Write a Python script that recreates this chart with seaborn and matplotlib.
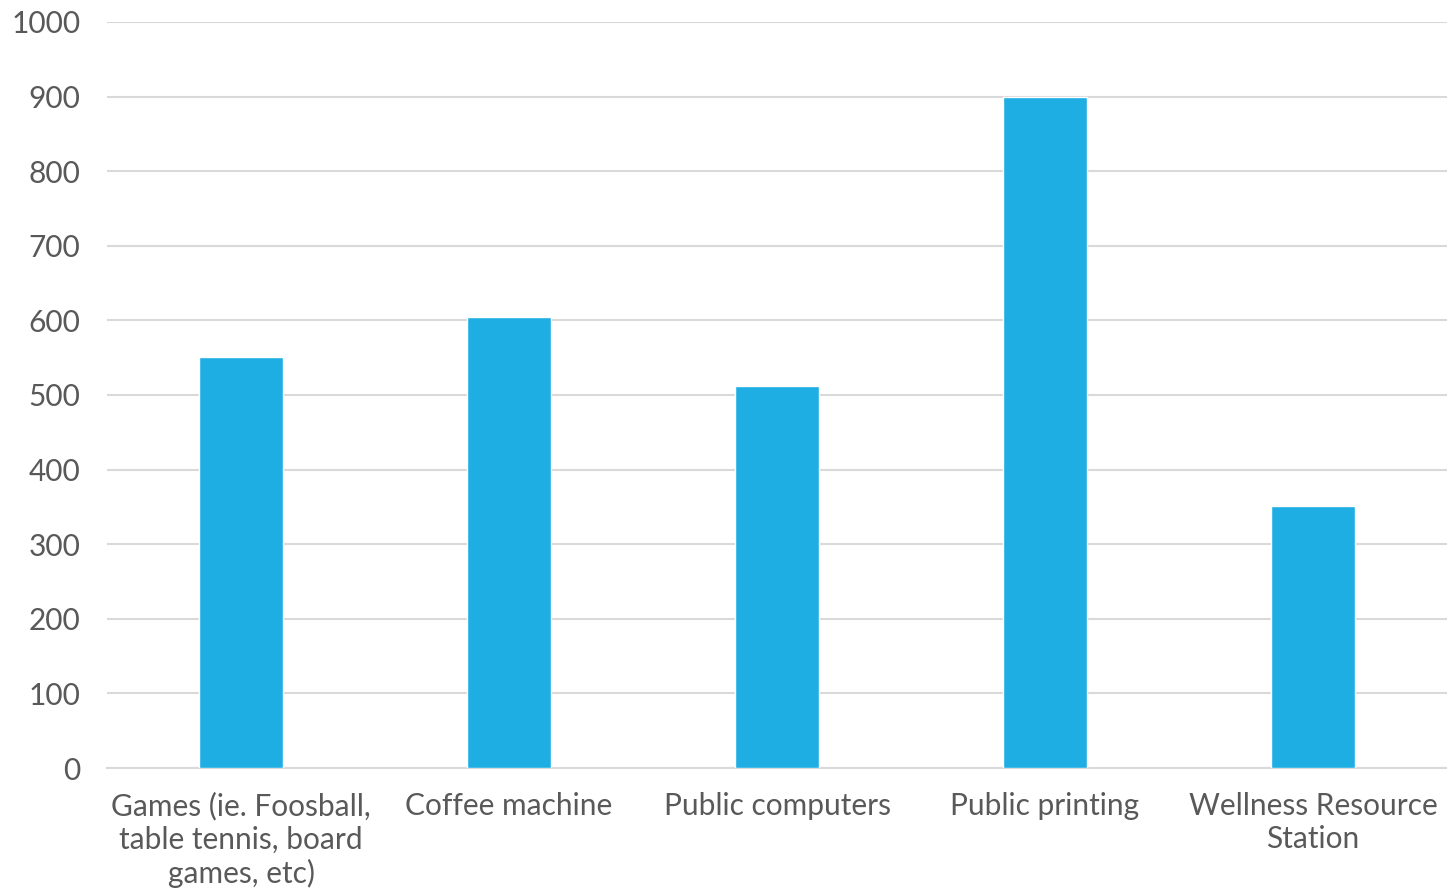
import matplotlib
matplotlib.use("Agg")
from matplotlib import pyplot as plt
import seaborn as sns
import pandas as pd

categories = ["Games (ie. Foosball,\ntable tennis, board\ngames, etc)",
              "Coffee machine",
              "Public computers",
              "Public printing",
              "Wellness Resource\nStation"]
counts = [551, 605, 512, 899, 351]
yticks = [0, 100, 200, 300, 400, 500, 600, 700, 800, 900, 1000]

df = pd.DataFrame({"facility": categories, "count": counts})

sns.set_style("white")
plt.rcParams['font.family'] = ['Lato', 'DejaVu Sans']

fig = plt.figure(figsize=(14.47, 8.89), dpi=100)
ax = fig.add_axes([107 / 1447, 1 - 768 / 889, 1340 / 1447, 746 / 889])

sns.barplot(data=df, x="facility", y="count", color="#1eaee3", saturation=1,
            width=0.31, ax=ax, zorder=3)

ax.set_ylim(0, 1000)
ax.set_xlim(-0.5, 4.5)
ax.set_yticks(yticks)
ax.yaxis.grid(True, color="#d9d9d9", linewidth=1.5, zorder=0)
ax.set_axisbelow(True)
for side in ["top", "right", "left"]:
    ax.spines[side].set_visible(False)
ax.spines["bottom"].set_color("#d9d9d9")
ax.spines["bottom"].set_linewidth(1.5)
ax.tick_params(axis="both", length=0, labelsize=21.5, colors="#595959")
ax.tick_params(axis="x", pad=17)
ax.tick_params(axis="y", pad=19)
ax.set_xlabel("")
ax.set_ylabel("")
for lbl in ax.get_xticklabels():
    lbl.set_linespacing(1.22)

fig.savefig("out.png", dpi=100)
plt.close()
